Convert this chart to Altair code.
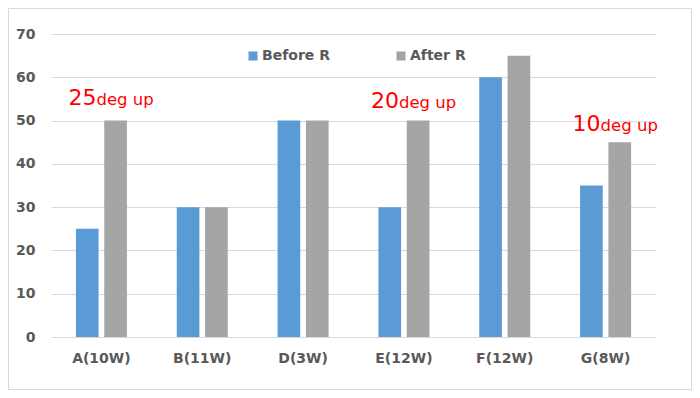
import altair as alt
import pandas as pd

categories = ["A(10W)", "B(11W)", "D(3W)", "E(12W)", "F(12W)", "G(8W)"]
series_names = ["Before R", "After R"]
before_r = [25, 30, 50, 30, 60, 35]
after_r = [50, 30, 50, 50, 65, 45]

note_categories = ["A(10W)", "E(12W)", "G(8W)"]
note_numbers = ["25", "20", "10"]
note_suffix = ["deg up", "deg up", "deg up"]
note_levels = [53.5, 53.0, 47.7]

colors = ["#5B9BD5", "#A5A5A5"]

rows = []
for c, b, a in zip(categories, before_r, after_r):
    rows.append({"cat": c, "series": series_names[0], "value": b})
    rows.append({"cat": c, "series": series_names[1], "value": a})
df = pd.DataFrame(rows)

notes = pd.DataFrame({
    "cat": note_categories,
    "num": note_numbers,
    "suffix": note_suffix,
    "level": note_levels,
})

label_font = "DejaVu Sans"
label_color = "#595959"

x_enc = alt.X(
    "cat:N",
    sort=categories,
    title=None,
    scale=alt.Scale(paddingInner=0.494, paddingOuter=0.247),
    axis=alt.Axis(
        labelAngle=0, ticks=False, domain=False, grid=False,
        labelFont=label_font, labelFontSize=14, labelFontWeight="bold",
        labelColor=label_color, labelPadding=14,
    ),
)
y_scale = alt.Scale(domain=[0, 70], nice=False)

bars = alt.Chart(df).mark_bar().encode(
    x=x_enc,
    xOffset=alt.XOffset("series:N", sort=series_names,
                        scale=alt.Scale(paddingInner=0.2, paddingOuter=0)),
    y=alt.Y(
        "value:Q", scale=y_scale, title=None,
        axis=alt.Axis(
            values=[0, 10, 20, 30, 40, 50, 60, 70], ticks=False, domain=False,
            grid=True, gridColor="#D9D9D9", gridWidth=1,
            labelFont=label_font, labelFontSize=14, labelFontWeight="bold",
            labelColor=label_color, labelPadding=16,
        ),
    ),
    color=alt.Color(
        "series:N",
        sort=series_names,
        scale=alt.Scale(domain=series_names, range=colors),
        legend=alt.Legend(
            title=None, orient="none", direction="horizontal",
            legendX=195, legendY=15, symbolType="square", symbolSize=81,
            symbolStrokeWidth=0, labelFont=label_font, labelFontSize=14,
            labelFontWeight="bold", labelColor=label_color, labelOffset=2,
            columnPadding=64, padding=0,
        ),
    ),
)

num_text = alt.Chart(notes).mark_text(
    align="right", baseline="alphabetic", dx=-5, font=label_font,
    fontSize=22, color="#FF0000",
).encode(
    x=alt.X("cat:N", sort=categories),
    y=alt.Y("level:Q", scale=y_scale),
    text="num:N",
)

suffix_text = alt.Chart(notes).mark_text(
    align="left", baseline="alphabetic", dx=-5, font=label_font,
    fontSize=16.5, color="#FF0000",
).encode(
    x=alt.X("cat:N", sort=categories),
    y=alt.Y("level:Q", scale=y_scale),
    text="suffix:N",
)

border = alt.Chart(alt.Data(values=[{"k": 1}])).mark_rect(
    fill="white", fillOpacity=0, stroke="#D9D9D9", strokeWidth=1,
).encode(
    x=alt.value(-42.5), x2=alt.value(640.5),
    y=alt.value(-25.5), y2=alt.value(355.5),
)

chart = alt.layer(bars, num_text, suffix_text, border).properties(
    width=605,
    height=303,
    autosize=alt.AutoSizeParams(type="none"),
    padding={"left": 43, "top": 26, "right": 36, "bottom": 53},
    background="white",
).configure_view(stroke=None)

chart.save("out.html", embed_options={"renderer": "svg", "actions": False})
